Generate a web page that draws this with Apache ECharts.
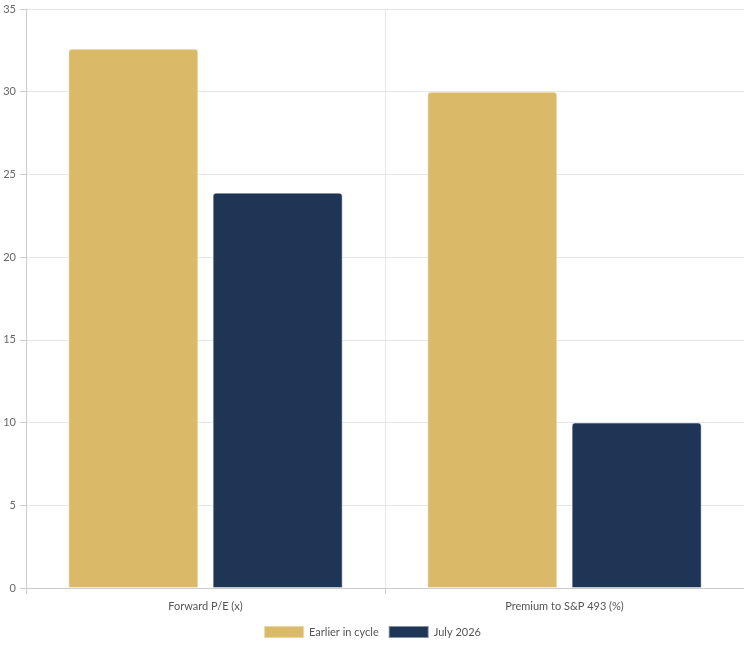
<!DOCTYPE html>
<html>
<head>
<meta charset="utf-8">
<script src="https://cdn.jsdelivr.net/npm/echarts@6/dist/echarts.min.js"></script>
<style>
  html, body { margin: 0; padding: 0; background: #fff; }
  #chart { width: 744px; height: 647px; }
</style>
</head>
<body>
<div id="chart"></div>
<script>
const categories = ['Forward P/E (x)', 'Premium to S&P 493 (%)'];
const earlierInCycle = [32.6, 30];
const july2026 = [23.9, 10];
const seriesNames = ['Earlier in cycle', 'July 2026'];

const chart = echarts.init(document.getElementById('chart'), null, { renderer: 'canvas' });

const barStyle = (color) => ({
  color: color,
  borderRadius: [3, 3, 0, 0],
  borderColor: 'rgba(255,255,255,0.45)',
  borderWidth: 1
});

chart.setOption({
  animation: false,
  textStyle: { fontFamily: 'Lato' },
  legend: {
    top: 620,
    itemWidth: 40,
    itemHeight: 12,
    itemGap: 9,
    icon: 'rect',
    textStyle: { color: '#555', fontSize: 11, fontFamily: 'Lato' },
    data: seriesNames
  },
  grid: { left: 26, right: 0, top: 9, bottom: 59 },
  xAxis: {
    type: 'category',
    data: categories,
    axisLine: { lineStyle: { color: '#ccc' } },
    axisTick: { show: true, length: 6, lineStyle: { color: '#ccc' } },
    splitLine: { show: true, lineStyle: { color: '#e6e6e6' } },
    axisLabel: { color: '#555', fontSize: 11, margin: 13 }
  },
  yAxis: {
    type: 'value',
    min: 0,
    max: 35,
    interval: 5,
    axisLine: { show: true, lineStyle: { color: '#ccc' } },
    axisTick: { show: true, length: 6, lineStyle: { color: '#ccc' } },
    splitLine: { lineStyle: { color: '#e6e6e6' } },
    axisLabel: { color: '#666', fontSize: 11, margin: 10 }
  },
  series: [
    {
      name: seriesNames[0],
      type: 'bar',
      data: earlierInCycle,
      barWidth: 130,
      barGap: '11%',
      itemStyle: barStyle('#DAB968')
    },
    {
      name: seriesNames[1],
      type: 'bar',
      data: july2026,
      barWidth: 130,
      itemStyle: barStyle('#1F3556')
    }
  ]
});
</script>
</body>
</html>
